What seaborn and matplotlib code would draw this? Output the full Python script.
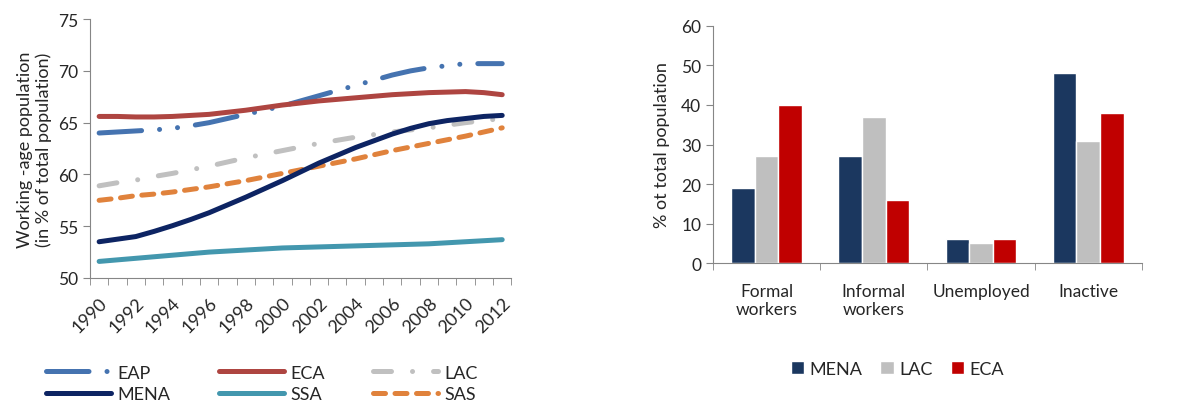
import matplotlib
matplotlib.use("Agg")
import matplotlib.pyplot as plt
import numpy as np
import seaborn as sns
import pandas as pd

# ---- data: working-age population share (left panel)
years = list(range(1990, 2013))
eap = [64.0, 64.1, 64.2, 64.3, 64.45, 64.7, 65.0, 65.4, 65.8, 66.2, 66.6, 67.1,
       67.6, 68.1, 68.6, 69.1, 69.6, 70.0, 70.3, 70.5, 70.7, 70.7, 70.7]
eca = [65.6, 65.6, 65.55, 65.55, 65.6, 65.7, 65.8, 66.0, 66.2, 66.45, 66.7, 66.9,
       67.1, 67.25, 67.4, 67.55, 67.7, 67.8, 67.9, 67.95, 68.0, 67.9, 67.7]
lac = [58.9, 59.2, 59.45, 59.8, 60.1, 60.45, 60.8, 61.2, 61.6, 61.95, 62.3, 62.65,
       63.0, 63.3, 63.6, 63.85, 64.1, 64.3, 64.5, 64.75, 65.0, 65.2, 65.4]
mena = [53.5, 53.75, 54.0, 54.5, 55.05, 55.65, 56.3, 57.05, 57.8, 58.6, 59.4, 60.25,
        61.1, 61.85, 62.6, 63.25, 63.9, 64.45, 64.9, 65.2, 65.4, 65.6, 65.7]
ssa = [51.6, 51.75, 51.9, 52.05, 52.2, 52.35, 52.5, 52.6, 52.7, 52.8, 52.9, 52.95,
       53.0, 53.05, 53.1, 53.15, 53.2, 53.25, 53.3, 53.4, 53.5, 53.6, 53.7]
sas = [57.5, 57.7, 57.95, 58.1, 58.3, 58.55, 58.8, 59.1, 59.4, 59.75, 60.1, 60.45,
       60.8, 61.15, 61.5, 61.9, 62.3, 62.65, 63.0, 63.35, 63.7, 64.1, 64.5]

# ---- data: labour status (right panel)
status = ["Formal\nworkers", "Informal\nworkers", "Unemployed", "Inactive"]
bar_mena = [19, 27, 6, 48]
bar_lac = [27, 37, 5, 31]
bar_eca = [40, 16, 6, 38]

sns.set_style("ticks")
plt.rcParams['font.family'] = ['Lato', 'DejaVu Sans']
plt.rcParams['font.size'] = 12.5

fig = plt.figure(figsize=(11.87, 4.02), dpi=100)
ax1 = fig.add_axes([0.0758, 0.306, 0.355, 0.644])
ax2 = fig.add_axes([0.6007, 0.343, 0.3613, 0.590])

axis_grey = "#868686"
lw = 3.6
series = [
    ("EAP", eap, "#4573B0", (0, (8.5, 3.6, 0.01, 3.6, 0.01, 3.6))),
    ("ECA", eca, "#AE4541", "-"),
    ("LAC", lac, "#C0C0C0", (0, (3.6, 4.2, 0.01, 4.2))),
    ("MENA", mena, "#0D2463", "-"),
    ("SSA", ssa, "#4397AE", "-"),
    ("SAS", sas, "#E0823C", (0, (2.4, 1.9))),
]
df_lines = pd.DataFrame({"year": years})
for name, vals, color, ls in series:
    df_lines[name] = vals

draw_order = ["EAP", "ECA", "LAC", "SAS", "MENA", "SSA"]
handles = {}
for name, vals, color, ls in series:
    sns.lineplot(data=df_lines, x="year", y=name, color=color, linewidth=lw,
                 linestyle=ls, dash_capstyle="round", solid_capstyle="round",
                 label=name, ax=ax1, zorder=3 + draw_order.index(name))
for line in ax1.get_lines():
    handles[line.get_label()] = line

ax1.set_xlim(1989.5, 2012.5)
ax1.set_ylim(50, 75)
ax1.set_yticks(range(50, 76, 5))
ax1.set_xticks(years[::2])
ax1.set_xticklabels([str(y) for y in years[::2]], rotation=45, ha="right",
                    rotation_mode="anchor", fontsize=13)
ax1.set_xticks(np.arange(1989.5, 2013, 1), minor=True)
ax1.tick_params(axis="x", which="major", length=0, pad=12)
ax1.tick_params(axis="x", which="minor", length=5, color=axis_grey)
ax1.tick_params(axis="y", length=5, color=axis_grey)
ax1.set_xlabel("")
ax1.set_ylabel("Working -age population\n(in % of total population)", fontsize=13,
               labelpad=4)
sns.despine(ax=ax1)
for s in ["left", "bottom"]:
    ax1.spines[s].set_color(axis_grey)
# row-major order in the reference: EAP ECA LAC / MENA SSA SAS
leg_order = ["EAP", "MENA", "ECA", "SSA", "LAC", "SAS"]
ax1.legend([handles[n] for n in leg_order], leg_order,
           ncol=3, loc="center left", bbox_to_anchor=(0.028, 0.044),
           bbox_transform=fig.transFigure,
           frameon=False, handlelength=3.6, handletextpad=0.35,
           columnspacing=2.7, labelspacing=0.3, fontsize=13,
           borderpad=0.2)

# ---- right panel
df_bars = pd.DataFrame({
    "status": status * 3,
    "region": ["MENA"] * 4 + ["LAC"] * 4 + ["ECA"] * 4,
    "value": bar_mena + bar_lac + bar_eca,
})
sns.barplot(data=df_bars, x="status", y="value", hue="region",
            palette={"MENA": "#1B375F", "LAC": "#BFBFBF", "ECA": "#C00000"},
            width=0.66, gap=0, saturation=1, ax=ax2)
ax2.set_xlim(-0.5, 3.41)
ax2.set_ylim(0, 60)
ax2.set_yticks(range(0, 61, 10))
ax2.set_xticks(np.arange(-0.5, 3.6, 1), minor=True)
ax2.tick_params(axis="x", which="major", length=0, pad=14)
ax2.tick_params(axis="x", which="minor", length=5, color=axis_grey)
ax2.tick_params(axis="y", length=5, color=axis_grey)
ax2.set_xlabel("")
ax2.set_ylabel("% ot total population", fontsize=13, labelpad=8)
sns.despine(ax=ax2)
for s in ["left", "bottom"]:
    ax2.spines[s].set_color(axis_grey)
ax2.legend(ncol=3, loc="center", bbox_to_anchor=(0.43, -0.445), frameon=False,
           handlelength=0.75, handleheight=0.75, handletextpad=0.3,
           columnspacing=1.0, fontsize=13, title=None)

fig.savefig("out.png", dpi=100)
